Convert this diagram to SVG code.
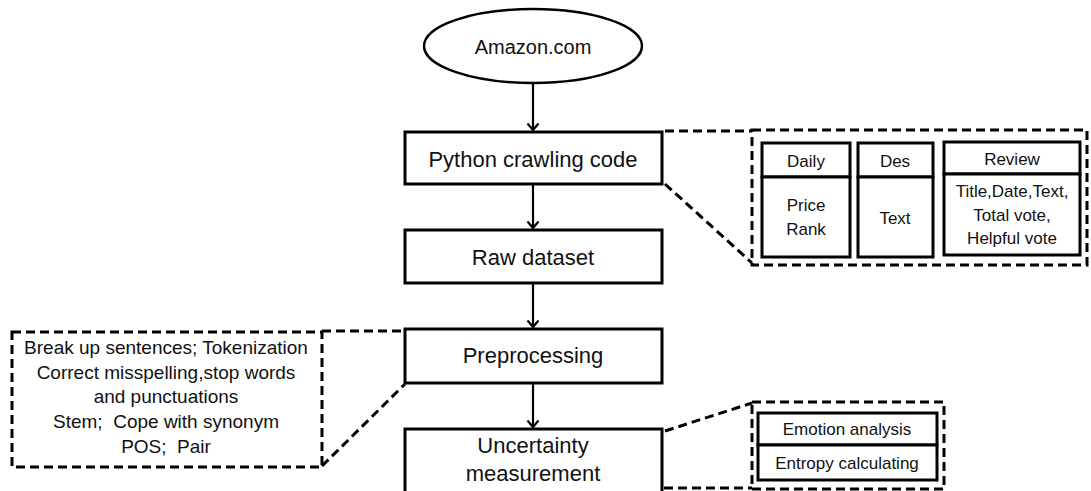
<svg xmlns="http://www.w3.org/2000/svg" width="1091" height="491" viewBox="0 0 1091 491">
<style>
.s{fill:#fff;stroke:#000;stroke-width:3}
.d{fill:none;stroke:#000;stroke-width:3;stroke-dasharray:9 5}
.c{fill:none;stroke:#000;stroke-width:2.2}
text{font-family:"Liberation Sans",Arial,sans-serif;fill:#111;text-anchor:middle}
.m{font-size:22px}
.sm{font-size:17px}
.l{font-size:19px;white-space:pre}
</style>
<defs>
<marker id="ah" markerWidth="14" markerHeight="14" refX="7" refY="7" orient="auto" markerUnits="userSpaceOnUse">
<path d="M0.5,1.5 L7,7 L0.5,12.5" fill="none" stroke="#000" stroke-width="2.2"/>
</marker>
</defs>
<g id="connectors">
<line class="c" x1="533" y1="83" x2="533" y2="130" marker-end="url(#ah)"/>
<line class="c" x1="533" y1="185" x2="533" y2="228" marker-end="url(#ah)"/>
<line class="c" x1="533" y1="284" x2="533" y2="327" marker-end="url(#ah)"/>
<line class="c" x1="533" y1="384" x2="533" y2="427" marker-end="url(#ah)"/>
<line class="d" x1="665" y1="131" x2="752" y2="131"/>
<line class="d" x1="665" y1="184" x2="752" y2="263"/>
<line class="d" x1="322" y1="331" x2="404" y2="331"/>
<line class="d" x1="322" y1="466" x2="405" y2="384"/>
<line class="d" x1="665" y1="431" x2="752" y2="403"/>
<line class="d" x1="664" y1="488" x2="752" y2="488"/>
</g>
<g id="amazon">
<ellipse cx="533" cy="46" rx="109" ry="37" fill="#fff" stroke="#000" stroke-width="2.5"/>
<text x="533" y="54" style="font-size:20px">Amazon.com</text>
</g>
<g id="python">
<rect class="s" x="405" y="132" width="257" height="52"/>
<text class="m" x="533" y="167">Python crawling code</text>
</g>
<g id="raw">
<rect class="s" x="405" y="230" width="257" height="53"/>
<text class="m" x="533" y="265">Raw dataset</text>
</g>
<g id="preprocessing">
<rect class="s" x="405" y="329" width="257" height="54"/>
<text class="m" x="533" y="363">Preprocessing</text>
</g>
<g id="uncertainty">
<rect class="s" x="405" y="429" width="257" height="70"/>
<text class="m" x="533" y="453">Uncertainty</text>
<text class="m" x="533" y="481">measurement</text>
</g>
<g id="crawl-detail">
<rect class="d" x="752" y="130" width="335" height="135"/>
<rect class="s" x="762" y="143" width="88" height="34"/>
<rect class="s" x="762" y="177" width="88" height="80"/>
<text class="sm" x="806" y="167">Daily</text>
<text class="sm" x="806" y="211">Price</text>
<text class="sm" x="806" y="235">Rank</text>
<rect class="s" x="858" y="143" width="75" height="34"/>
<rect class="s" x="858" y="177" width="75" height="80"/>
<text class="sm" x="895" y="167">Des</text>
<text class="sm" x="895" y="224">Text</text>
<rect class="s" x="944" y="142" width="136" height="32"/>
<rect class="s" x="944" y="174" width="136" height="81"/>
<text class="sm" x="1012" y="165">Review</text>
<text class="sm" x="1012" y="197">Title,Date,Text,</text>
<text class="sm" x="1012" y="221">Total vote,</text>
<text class="sm" x="1012" y="244">Helpful vote</text>
</g>
<g id="preprocess-detail">
<rect class="d" x="12" y="332" width="310" height="135"/>
<text class="l" x="166" y="354">Break up sentences; Tokenization</text>
<text class="l" x="166" y="379">Correct misspelling,stop words</text>
<text class="l" x="166" y="403">and punctuations</text>
<text class="l" x="166" y="428">Stem;  Cope with synonym</text>
<text class="l" x="166" y="453">POS;  Pair</text>
</g>
<g id="uncertainty-detail">
<rect class="d" x="752" y="402" width="192" height="87"/>
<rect class="s" x="758" y="413" width="179" height="32"/>
<text class="sm" x="847" y="435">Emotion analysis</text>
<rect class="s" x="758" y="445" width="179" height="35"/>
<text class="sm" x="847" y="469">Entropy calculating</text>
</g>
</svg>
